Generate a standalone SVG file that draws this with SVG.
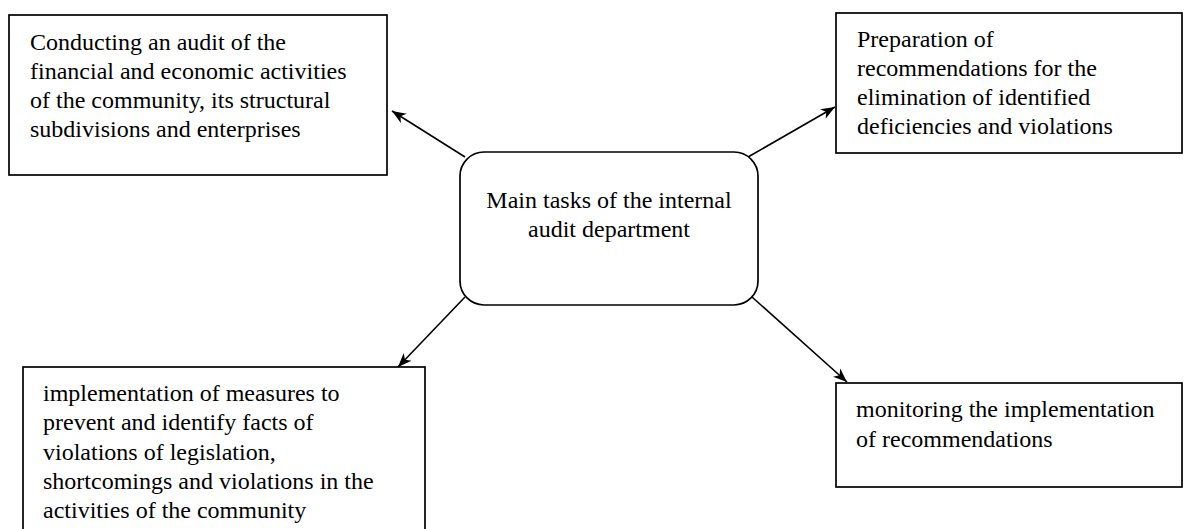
<svg xmlns="http://www.w3.org/2000/svg" width="1184" height="529" viewBox="0 0 1184 529">
<style>
.box{fill:#fff;stroke:#000;stroke-width:1.7}
.t{font-family:"Liberation Serif","Times New Roman",serif;font-size:24px;fill:#000}
.c{text-anchor:middle}
.conn{stroke:#000;stroke-width:1.6;fill:none;marker-end:url(#ah)}
</style>
<defs>
<marker id="ah" markerUnits="userSpaceOnUse" markerWidth="16" markerHeight="12" refX="14" refY="6" orient="auto">
<path d="M0,0.5 L14,6 L0,11.5 L4,6 Z" fill="#000"/>
</marker>
</defs>
<rect width="1184" height="529" fill="#fff"/>
<g id="connectors">
<line class="conn" x1="465" y1="157" x2="392" y2="111"/>
<line class="conn" x1="748" y1="157" x2="835" y2="107"/>
<line class="conn" x1="465" y1="297" x2="398" y2="367"/>
<line class="conn" x1="752" y1="297" x2="847" y2="382"/>
</g>
<g id="center">
<rect class="box" x="460" y="152" width="298" height="153" rx="24" ry="24"/>
<text class="t c" x="609" y="208">Main tasks of the internal</text>
<text class="t c" x="609" y="237">audit department</text>
</g>
<g id="audit">
<rect class="box" x="9" y="15" width="378" height="160"/>
<text class="t" x="30" y="50">Conducting an audit of the</text>
<text class="t" x="30" y="79">financial and economic activities</text>
<text class="t" x="30" y="108">of the community, its structural</text>
<text class="t" x="30" y="137">subdivisions and enterprises</text>
</g>
<g id="recommendations">
<rect class="box" x="836" y="13" width="346" height="140"/>
<text class="t" x="857" y="47">Preparation of</text>
<text class="t" x="857" y="76">recommendations for the</text>
<text class="t" x="857" y="105">elimination of identified</text>
<text class="t" x="857" y="134">deficiencies and violations</text>
</g>
<g id="prevention">
<rect class="box" x="23" y="367" width="402" height="180"/>
<text class="t" x="43" y="401">implementation of measures to</text>
<text class="t" x="43" y="430">prevent and identify facts of</text>
<text class="t" x="43" y="460">violations of legislation,</text>
<text class="t" x="43" y="489">shortcomings and violations in the</text>
<text class="t" x="43" y="518">activities of the community</text>
</g>
<g id="monitoring">
<rect class="box" x="836" y="383" width="346" height="104"/>
<text class="t" x="856" y="417">monitoring the implementation</text>
<text class="t" x="856" y="447">of recommendations</text>
</g>
</svg>
